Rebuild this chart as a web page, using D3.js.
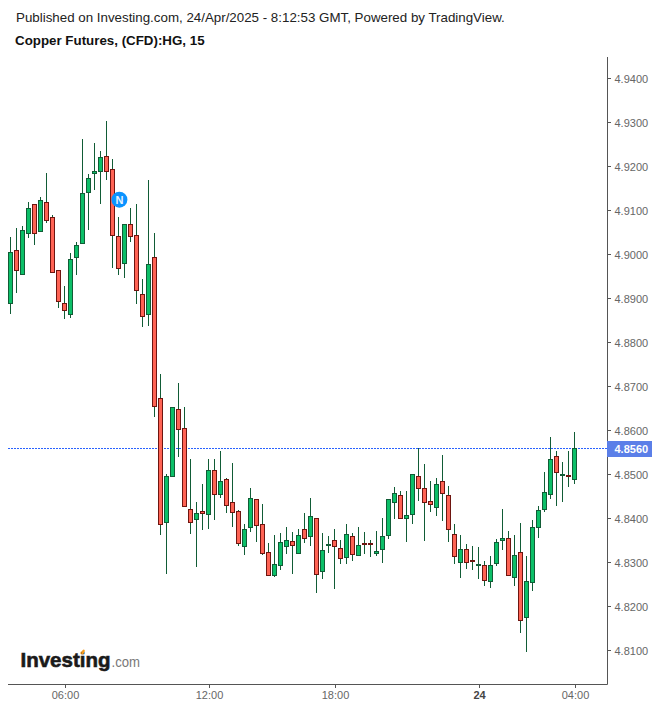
<!DOCTYPE html>
<html><head><meta charset="utf-8">
<script src="https://cdn.jsdelivr.net/npm/d3@7"></script>
<style>html,body{margin:0;padding:0;background:#fff}svg{display:block}text{font-family:"Liberation Sans",Arial,sans-serif}</style>
</head><body><svg id="c" width="659" height="708"></svg>
<script>
const titleLine = "Published on Investing.com, 24/Apr/2025 - 8:12:53 GMT, Powered by TradingView.";
const subtitleLine = "Copper Futures, (CFD):HG, 15";
const priceTicks = [4.94,4.93,4.92,4.91,4.90,4.89,4.88,4.87,4.86,4.85,4.84,4.83,4.82,4.81];
const timeTicks = [[9,"06:00"],[33,"12:00"],[54,"18:00"],[78,"24"],[94,"04:00"]];
const lastPrice = 4.856;
const newsBarIndex = 18.15, newsPrice = 4.9125;
const opens = [4.8889,4.9010,4.8956,4.9049,4.9115,4.9053,4.9119,4.9085,4.8965,4.8889,4.8865,4.8994,4.9026,4.9142,4.9185,4.9190,4.9224,4.9194,4.9042,4.8981,4.9069,4.9044,4.8910,4.8865,4.8994,
4.8673,4.8392,4.8496,4.8648,4.8605,4.8421,4.8398,4.8417,4.8410,4.8510,4.8455,4.8489,4.8437,4.8417,4.8337,4.8380,4.8444,4.8387,4.8323,4.8271,4.8294,4.8337,4.8348,4.8321,4.8376,4.8360,4.8401,4.8280,
4.8340,4.8351,4.8333,4.8310,4.8360,4.8315,4.8344,4.8344,4.8322,4.8331,4.8363,4.8438,4.8453,4.8401,4.8410,4.8497,4.8469,4.8440,4.8426,4.8485,4.8453,4.8365,4.8301,4.8331,4.8304,4.8295,4.8294,4.8257,4.8298,4.8351,4.8355,4.8266,4.8323,4.8176,4.8255,4.8380,4.8421,4.8455,4.8541,4.8500,4.8498,4.8489];
const highs = [4.9040,4.9061,4.9066,4.9119,4.9115,4.9131,4.9185,4.9090,4.8965,4.8928,4.9005,4.9028,4.9263,4.9183,4.9253,4.9235,4.9303,4.9217,4.9085,4.9069,4.9106,4.9115,4.8944,4.9169,4.9049,
4.8728,4.8501,4.8655,4.8708,4.8655,4.8535,4.8439,4.8480,4.8535,4.8535,4.8555,4.8492,4.8526,4.8419,4.8387,4.8469,4.8444,4.8433,4.8344,4.8362,4.8367,4.8380,4.8369,4.8376,4.8414,4.8446,4.8401,4.8367,
4.8360,4.8376,4.8351,4.8388,4.8367,4.8381,4.8369,4.8351,4.8372,4.8401,4.8444,4.8472,4.8463,4.8463,4.8501,4.8560,4.8524,4.8485,4.8492,4.8544,4.8474,4.8388,4.8363,4.8342,4.8339,4.8335,4.8305,4.8316,4.8355,4.8421,4.8373,4.8362,4.8391,4.8316,4.8396,4.8430,4.8505,4.8585,4.8555,4.8528,4.8555,4.8598];
const lows = [4.8866,4.8912,4.8956,4.9037,4.9021,4.9053,4.9071,4.8960,4.8880,4.8853,4.8857,4.8953,4.9026,4.9057,4.9146,4.9116,4.9169,4.8969,4.8955,4.8946,4.9028,4.8887,4.8835,4.8837,4.8632,
4.8364,4.8275,4.8496,4.8541,4.8428,4.8366,4.8291,4.8375,4.8377,4.8398,4.8448,4.8414,4.8382,4.8339,4.8318,4.8370,4.8348,4.8318,4.8271,4.8268,4.8284,4.8320,4.8275,4.8321,4.8345,4.8339,4.8230,4.8264,
4.8323,4.8241,4.8298,4.8296,4.8305,4.8315,4.8319,4.8314,4.8316,4.8300,4.8353,4.8400,4.8401,4.8348,4.8387,4.8441,4.8350,4.8416,4.8407,4.8394,4.8348,4.8298,4.8266,4.8285,4.8284,4.8263,4.8248,4.8243,4.8293,4.8328,4.8269,4.8246,4.8141,4.8098,4.8235,4.8357,4.8416,4.8444,4.8428,4.8439,4.8471,4.8480];
const closes = [4.9005,4.8965,4.9056,4.9106,4.9049,4.9124,4.9078,4.8960,4.8894,4.8874,4.8990,4.9022,4.9140,4.9174,4.9190,4.9222,4.9190,4.9044,4.8969,4.9069,4.9042,4.8919,4.8860,4.8978,4.8655,
4.8387,4.8496,4.8653,4.8603,4.8428,4.8392,4.8412,4.8412,4.8510,4.8455,4.8485,4.8430,4.8414,4.8344,4.8376,4.8446,4.8385,4.8321,4.8271,4.8296,4.8346,4.8351,4.8339,4.8362,4.8355,4.8405,4.8273,4.8328,
4.8342,4.8338,4.8310,4.8363,4.8319,4.8338,4.8343,4.8342,4.8326,4.8360,4.8444,4.8458,4.8401,4.8408,4.8501,4.8469,4.8438,4.8433,4.8478,4.8458,4.8376,4.8315,4.8331,4.8301,4.8303,4.8296,4.8260,4.8294,4.8346,4.8355,4.8271,4.8316,4.8169,4.8257,4.8380,4.8419,4.8460,4.8535,4.8505,4.8500,4.8495,4.8560];

const svg = d3.select("#c");
const plotLeft = 8, plotRight = 607, plotTop = 57, plotBottom = 684;
const y = d3.scaleLinear().domain([4.81,4.86]).range([650.7,430.7]);
const x = d3.scaleLinear().domain([0,94]).range([10.5,574.5]);
const crisp = v => Math.round(v - 0.5) + 0.5;
const axisFont = 11;

// title
svg.append("text").attr("x",16).attr("y",22).attr("font-size",13.33).attr("fill","#222").text(titleLine);
svg.append("text").attr("x",15).attr("y",45).attr("font-size",13.33).attr("font-weight","bold").attr("fill","#111").text(subtitleLine);

// logo
const logo = svg.append("g").attr("class","logo");
logo.append("text").attr("x",20.5).attr("y",667).attr("font-size",20.5).attr("font-weight","bold").attr("fill","#1a1a1a").attr("stroke","#1a1a1a").attr("stroke-width",0.6).attr("textLength",90).attr("lengthAdjust","spacingAndGlyphs").text("Investing");
logo.append("text").attr("x",111.5).attr("y",667).attr("font-size",14).attr("fill","#777").attr("textLength",28.5).attr("lengthAdjust","spacingAndGlyphs").text(".com");
logo.append("ellipse").attr("cx",83).attr("cy",652).attr("rx",1.4).attr("ry",2.6).attr("transform","rotate(30 83 652)").attr("fill","#f59b1c");

// last price line
const lastY = crisp(y(lastPrice));
svg.append("line").attr("x1",plotLeft).attr("x2",plotRight).attr("y1",lastY).attr("y2",lastY)
  .attr("stroke","#2962ff").attr("stroke-width",1).attr("stroke-dasharray","2 1");

// candles
const idx = d3.range(opens.length);
const up = i => closes[i] >= opens[i];
const g = svg.append("g");
g.selectAll("line.wick").data(idx).join("line").attr("class","wick")
  .attr("x1",i=>x(i)).attr("x2",i=>x(i))
  .attr("y1",i=>Math.round(y(highs[i]))).attr("y2",i=>Math.round(y(lows[i])))
  .attr("stroke","#115c36").attr("stroke-width",1);
g.selectAll("rect.body").data(idx).join("rect").attr("class","body")
  .attr("x",i=>x(i)-2).attr("width",4)
  .attr("y",i=>crisp(y(Math.max(opens[i],closes[i]))))
  .attr("height",i=>Math.max(1,Math.round(Math.abs(y(opens[i])-y(closes[i])))))
  .attr("fill",i=>up(i)?"#0cbf68":"#ff6354")
  .attr("stroke",i=>up(i)?"#115c36":"#6e1510").attr("stroke-width",1);

// axes
svg.append("line").attr("x1",crisp(plotRight)).attr("x2",crisp(plotRight)).attr("y1",plotTop).attr("y2",plotBottom+0.5).attr("stroke","#555");
svg.append("line").attr("x1",plotLeft).attr("x2",plotRight+0.5).attr("y1",plotBottom+0.5).attr("y2",plotBottom+0.5).attr("stroke","#555");
const yt = svg.append("g").selectAll("g").data(priceTicks).join("g");
yt.append("line").attr("x1",plotRight).attr("x2",plotRight+4).attr("y1",d=>crisp(y(d))).attr("y2",d=>crisp(y(d))).attr("stroke","#555");
yt.append("text").attr("x",614.5).attr("y",d=>y(d)+4).attr("font-size",axisFont).attr("fill","#666").text(d=>d.toFixed(4));
const xt = svg.append("g").selectAll("g").data(timeTicks).join("g");
xt.append("line").attr("x1",d=>crisp(x(d[0]))+1).attr("x2",d=>crisp(x(d[0]))+1).attr("y1",plotBottom).attr("y2",plotBottom+4).attr("stroke","#555");
xt.append("text").attr("x",d=>x(d[0])+1).attr("y",699).attr("text-anchor","middle").attr("font-size",axisFont)
  .attr("font-weight",d=>d[1]==="24"?"bold":"normal").attr("fill",d=>d[1]==="24"?"#444":"#666").text(d=>d[1]);

// last price badge
svg.append("rect").attr("x",plotRight).attr("y",lastY-7.5).attr("width",45).attr("height",16).attr("fill","#5b7fe8");
svg.append("text").attr("x",614.5).attr("y",lastY+4.5).attr("font-size",axisFont).attr("font-weight","bold").attr("fill","#fff").text(lastPrice.toFixed(4));

// news marker
const nx = x(newsBarIndex), ny = y(newsPrice);
svg.append("circle").attr("cx",nx).attr("cy",ny).attr("r",8).attr("fill","#0a93ff");
svg.append("text").attr("x",nx).attr("y",ny+4).attr("text-anchor","middle").attr("font-size",11).attr("font-weight","bold").attr("fill","#e8f4ff").text("N");
</script></body></html>
